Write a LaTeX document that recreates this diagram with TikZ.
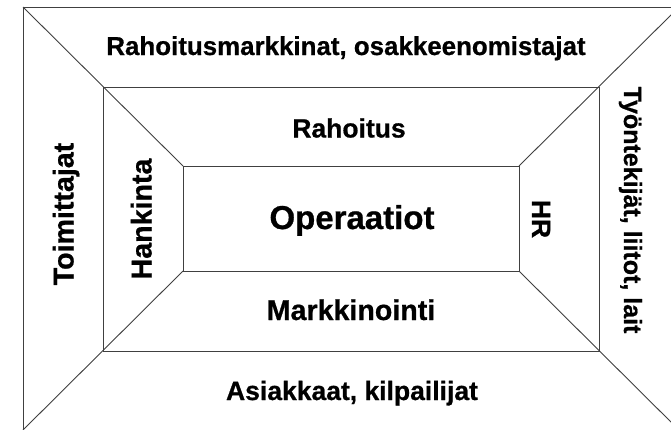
\documentclass[tikz,border=0pt]{standalone}
\usepackage{fontspec}
\setmainfont[BoldFeatures={FakeBold=0.7}]{Liberation Sans}
\tikzset{
  frame/.style={draw=black!75, line width=0.9pt},
  lbl/.style={font=\bfseries\fontsize{26.5}{30}\selectfont, anchor=base, inner sep=0pt},
  midlbl/.style={font=\bfseries\fontsize{28.6}{32}\selectfont, anchor=base, inner sep=0pt},
  biglbl/.style={font=\bfseries\fontsize{33}{38}\selectfont, anchor=base, inner sep=0pt}
}
\begin{document}
\begin{tikzpicture}[x=1pt, y=-1pt]
\useasboundingbox (0,0) rectangle (671,429);
\fill[white] (0,0) rectangle (671,429);
\clip (0,0) rectangle (671,429);

% corners of the three nested frames
\coordinate (o1) at (23,7);   \coordinate (o2) at (679,7);
\coordinate (o3) at (679,430); \coordinate (o4) at (23,430);
\coordinate (m1) at (103,87);  \coordinate (m2) at (599,87);
\coordinate (m3) at (599,351); \coordinate (m4) at (103,351);
\coordinate (i1) at (183,166); \coordinate (i2) at (519,166);
\coordinate (i3) at (519,271); \coordinate (i4) at (183,271);

\draw[frame] (o1) rectangle (o3);
\draw[frame] (m1) rectangle (m3);
\draw[frame] (i1) rectangle (i3);
\draw[frame] (o1) -- (i1);
\draw[frame] (o2) -- (i2);
\draw[frame] (o3) -- (i3);
\draw[frame] (o4) -- (i4);

% labels
\node[lbl, font=\bfseries\fontsize{25.9}{30}\selectfont] (outerTop) at (346,55) {Rahoitusmarkkinat, osakkeenomistajat};
\node[lbl] (midTop) at (349,137.5) {Rahoitus};
\node[biglbl] (core) at (352,229) {Operaatiot};
\node[midlbl] (midBot) at (351,320) {Markkinointi};
\node[lbl] (outerBot) at (352,400) {Asiakkaat, kilpailijat};
\node[midlbl, rotate=90] (outerLeft) at (73.5,214) {Toimittajat};
\node[midlbl, rotate=90] (midLeft) at (151.5,219) {Hankinta};
\node[lbl, rotate=-90] (midRight) at (532,219) {HR};
\node[lbl, rotate=-90, font=\bfseries\fontsize{25}{30}\selectfont] (outerRight) at (624,210) {Työntekijät, liitot, lait};
\end{tikzpicture}
\end{document}
